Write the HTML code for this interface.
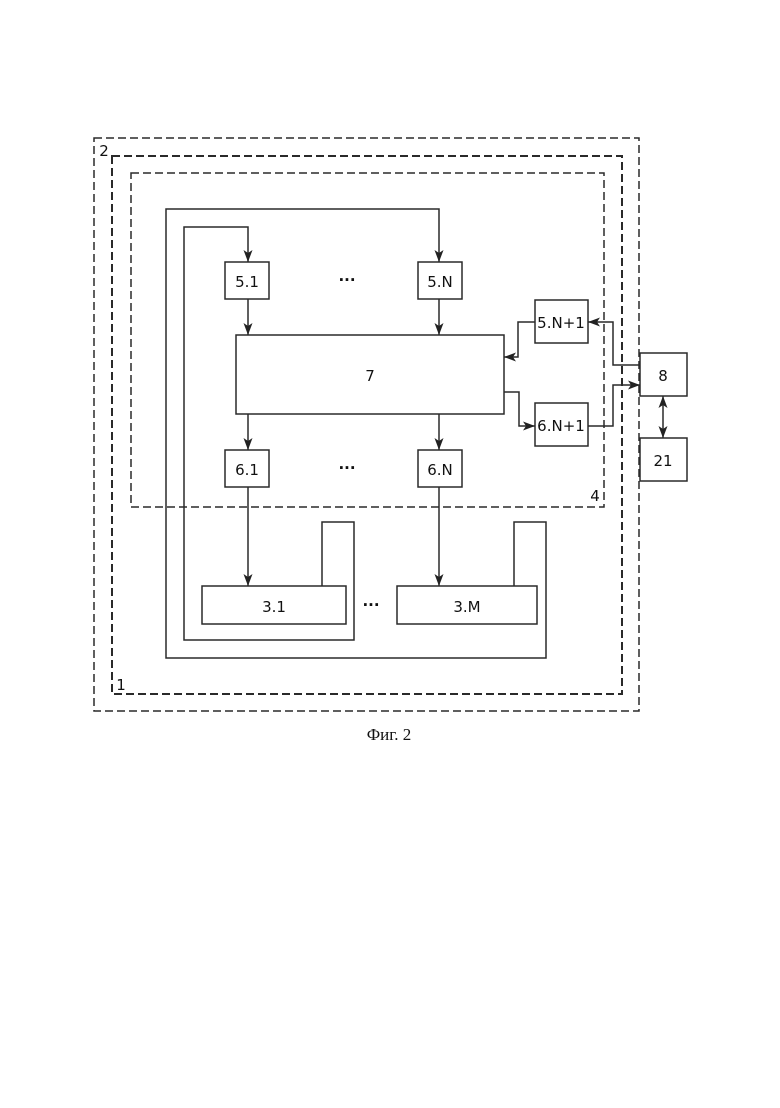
<!DOCTYPE html>
<html><head><style>body{margin:0;background:#fff}</style></head><body>
<svg width="780" height="1103" xmlns="http://www.w3.org/2000/svg" font-family="DejaVu Sans, Liberation Sans, sans-serif">
<defs><marker id="a" markerWidth="12" markerHeight="9" refX="12" refY="4.5" orient="auto" markerUnits="userSpaceOnUse"><path d="M0,0 L12,4.5 L0,9 L3,4.5 z" fill="#222"/></marker>
<marker id="b" markerWidth="12" markerHeight="9" refX="12" refY="4.5" orient="auto-start-reverse" markerUnits="userSpaceOnUse"><path d="M0,0 L12,4.5 L0,9 L3,4.5 z" fill="#222"/></marker></defs>
<g fill="none" stroke="#2a2a2a" stroke-width="1.5">
<rect x="94" y="138" width="545" height="573" stroke-dasharray="8,4"/>
<rect x="112" y="156" width="510" height="538" stroke-dasharray="8,4" stroke-width="2"/>
<rect x="131" y="173" width="473" height="334" stroke-dasharray="8,4"/>
<rect x="225" y="262" width="44" height="37"/>
<rect x="418" y="262" width="44" height="37"/>
<rect x="236" y="335" width="268" height="79"/>
<rect x="225" y="450" width="44" height="37"/>
<rect x="418" y="450" width="44" height="37"/>
<rect x="202" y="586" width="144" height="38"/>
<rect x="397" y="586" width="140" height="38"/>
<rect x="535" y="300" width="53" height="43"/>
<rect x="535" y="403" width="53" height="43"/>
<rect x="640" y="353" width="47" height="43"/>
<rect x="640" y="438" width="47" height="43"/>
<path d="M514,586 V522 H546 V658 H166 V209 H439 V262" marker-end="url(#a)"/>
<path d="M322,586 V522 H354 V640 H184 V227 H248 V262" marker-end="url(#a)"/>
<path d="M248,299 V335" marker-end="url(#a)"/>
<path d="M439,299 V335" marker-end="url(#a)"/>
<path d="M248,414 V450" marker-end="url(#a)"/>
<path d="M439,414 V450" marker-end="url(#a)"/>
<path d="M248,487 V586" marker-end="url(#a)"/>
<path d="M439,487 V586" marker-end="url(#a)"/>
<path d="M640,365 H613 V322 H588" marker-end="url(#a)"/>
<path d="M535,322 H518 V357 H504" marker-end="url(#a)"/>
<path d="M504,392 H519 V426 H535" marker-end="url(#a)"/>
<path d="M588,426 H613 V385 H640" marker-end="url(#a)"/>
<path d="M663,396 V438" marker-start="url(#b)" marker-end="url(#a)"/>
</g>
<g font-size="15" fill="#111" text-anchor="middle">
<text x="247" y="287">5.1</text><text x="440" y="287">5.N</text>
<text x="347" y="285" font-weight="bold">···</text>
<text x="370" y="381">7</text>
<text x="247" y="475">6.1</text><text x="440" y="475">6.N</text>
<text x="347" y="473" font-weight="bold">···</text>
<text x="274" y="612">3.1</text><text x="467" y="612">3.M</text>
<text x="371" y="610" font-weight="bold">···</text>
<text x="561" y="328">5.N+1</text><text x="561" y="431">6.N+1</text>
<text x="663" y="381">8</text><text x="663" y="466">21</text>
<text x="104" y="156">2</text><text x="121" y="690">1</text><text x="595" y="501">4</text>
</g>
<text x="389" y="740" font-family="Liberation Serif, serif" font-size="17" text-anchor="middle" fill="#111">Фиг. 2</text>
</svg>
</body></html>
